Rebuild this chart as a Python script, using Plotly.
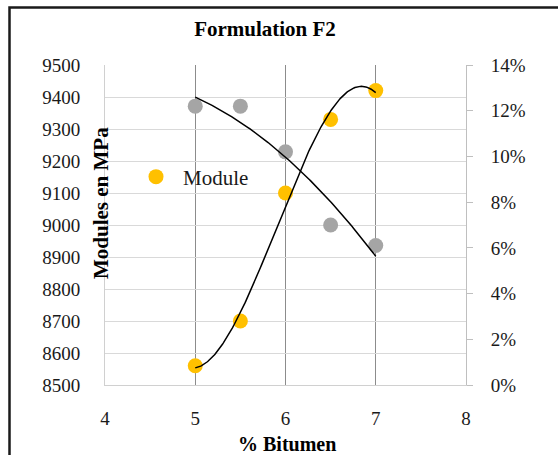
import numpy as np
import plotly.graph_objects as go

# Data
bitumen = [5.0, 5.5, 6.0, 6.5, 7.0]
module_mpa = [8560, 8700, 9100, 9330, 9420]
second_pct = [0.122, 0.122, 0.102, 0.070, 0.061]

x_ticks = [4, 5, 6, 7, 8]
title_text = "Formulation F2"
x_title = "% Bitumen"
y_title = "Modules en MPa"
legend_name = "Module"

YELLOW = "#FFC000"
GRAY = "#A5A5A5"
SERIF = "Liberation Serif, Times New Roman, serif"

# Trendlines fitted from the data (Excel-like polynomial trendlines)
xs = np.linspace(min(bitumen), max(bitumen), 200)
cubic = np.polyval(np.polyfit(bitumen, module_mpa, 3), xs)
quad = np.polyval(np.polyfit(bitumen, second_pct, 2), xs)

fig = go.Figure()
fig.add_trace(go.Scatter(x=bitumen, y=module_mpa, mode="markers", name=legend_name,
                         marker=dict(color=YELLOW, size=15), yaxis="y"))
fig.add_trace(go.Scatter(x=bitumen, y=second_pct, mode="markers", showlegend=False,
                         marker=dict(color=GRAY, size=15), yaxis="y2"))
fig.add_trace(go.Scatter(x=xs, y=cubic, mode="lines", showlegend=False,
                         line=dict(color="black", width=1.5), yaxis="y"))
fig.add_trace(go.Scatter(x=xs, y=quad, mode="lines", showlegend=False,
                         line=dict(color="black", width=1.5), yaxis="y2"))

W, H = 558, 455
L, R, T, B = 105, 466, 65, 385
pw, ph = R - L, B - T

def px(xp):
    return (xp - L) / pw

def py(yp):
    return (B - yp) / ph

tickfont = dict(family=SERIF, size=19, color="#1a1a1a")

fig.update_layout(
    width=W, height=H,
    margin=dict(l=L, r=W - R, t=T, b=H - B),
    paper_bgcolor="white", plot_bgcolor="white",
    showlegend=True,
    legend=dict(x=px(129), y=py(177), xanchor="left", yanchor="middle", itemwidth=44,
                bgcolor="rgba(0,0,0,0)", font=dict(family=SERIF, size=21, color="#1a1a1a")),
    xaxis=dict(range=[4, 8], tickvals=x_ticks, showgrid=True, gridcolor="#8c8c8c", gridwidth=1,
               zeroline=False, showline=True, linecolor="#d0d0d0", linewidth=1,
               ticks="", tickfont=tickfont, ticklabelstandoff=16),
    yaxis=dict(range=[8500, 9500], dtick=100, showgrid=True, gridcolor="#d9d9d9", gridwidth=1,
               zeroline=False, showline=True, linecolor="#d0d0d0", linewidth=1,
               ticks="", tickfont=tickfont, ticklabelstandoff=20),
    yaxis2=dict(range=[0, 0.14], dtick=0.02, tickformat=".0%", overlaying="y", side="right",
                showgrid=False, zeroline=False, showline=True, linecolor="#bfbfbf", linewidth=1,
                ticks="outside", ticklen=6, tickcolor="#bfbfbf", tickfont=tickfont,
                ticklabelstandoff=14),
    title=dict(text="<b>" + title_text + "</b>", x=265 / W, y=1 - 29 / H, xref="container",
               xanchor="center", yanchor="middle", font=dict(family=SERIF, size=21, color="black")),
    annotations=[
        dict(text="<b>" + x_title + "</b>", xref="paper", yref="paper", x=px(287), y=py(444),
             xanchor="center", yanchor="middle", showarrow=False,
             font=dict(family=SERIF, size=20, color="black")),
        dict(text="<b>" + y_title + "</b>", xref="paper", yref="paper", x=px(101), y=py(203),
             xanchor="center", yanchor="middle", showarrow=False, textangle=-90,
             font=dict(family=SERIF, size=21, color="black")),
    ],
    shapes=[
        dict(type="rect", xref="paper", yref="paper", x0=px(9.5), x1=px(620), y0=py(7.5), y1=py(520),
             line=dict(color="#1a1a1a", width=2.5), fillcolor="rgba(0,0,0,0)", layer="above"),
    ],
)

fig.write_html("out.html")
